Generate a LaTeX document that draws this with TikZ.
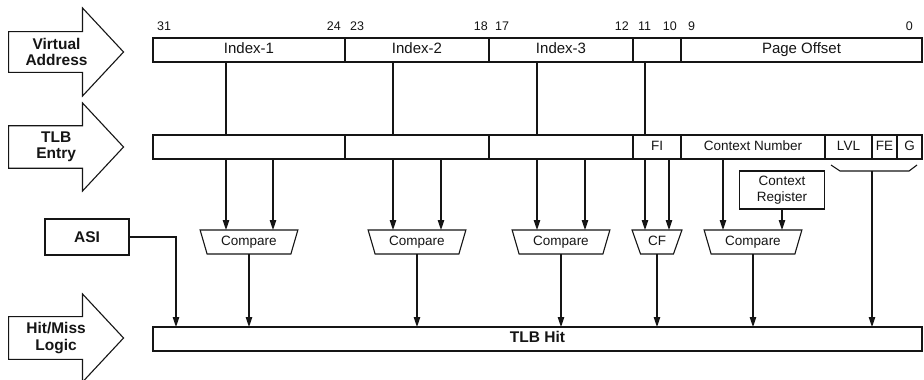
\documentclass[tikz,border=0pt]{standalone}
\usepackage{fontspec}
\setmainfont{Liberation Sans}
\usetikzlibrary{arrows.meta,positioning,shapes.geometric,shapes.arrows}
\definecolor{ink}{HTML}{151515}
\tikzset{
  every node/.style={text=ink},
  field box/.style={
    draw=ink,
    line width=1.1pt,
    minimum height=24pt,
    inner sep=0pt,
    outer sep=0pt,
    text height=1.5ex,
    text depth=.25ex,
    font=\fontsize{15}{17}\selectfont
  },
  entry box/.style={field box,font=\fontsize{13.5}{15}\selectfont},
  bit label/.style={font=\fontsize{12.5}{14}\selectfont,inner sep=0pt},
  compare box/.style={
    trapezium,
    trapezium angle=63.4,
    shape border rotate=180,
    trapezium stretches=true,
    draw=ink,
    line width=1.1pt,
    minimum height=24pt,
    inner sep=0pt,
    outer sep=0pt,
    text height=1.5ex,
    text depth=.25ex,
    font=\fontsize{13.5}{15}\selectfont
  },
  plain box/.style={
    draw=ink,
    line width=1.1pt,
    align=center,
    inner sep=0pt,
    outer sep=0pt
  },
  stage arrow/.style={
    single arrow,
    draw=ink,
    line width=1.1pt,
    minimum height=115pt,
    minimum width=88pt,
    single arrow head extend=19pt,
    single arrow tip angle=94,
    align=center,
    inner sep=2pt,
    font=\bfseries\fontsize{15.5}{16.5}\selectfont
  },
  wire/.style={draw=ink,line width=1.1pt},
  flow arrow/.style={-{Triangle[length=10pt,width=6.5pt]},line width=1.1pt,draw=ink},
}

\begin{document}
\begin{tikzpicture}[x=1pt,y=-1pt]
  \useasboundingbox[fill=white] (0,0) rectangle (924,380);

  % stage arrows on the left
  \node[stage arrow,anchor=tail] (va) at (8,52) {Virtual\\Address};
  \node[stage arrow,anchor=tail] (te) at (8,147) {TLB\\Entry};
  \node[stage arrow,anchor=tail] (hm) at (8,338) {Hit/Miss\\Logic};

  % virtual address
  \node[field box,minimum width=192pt,anchor=north west] (i1) at (153,38) {Index-1};
  \node[field box,minimum width=144pt,right=0pt of i1] (i2) {Index-2};
  \node[field box,minimum width=144pt,right=0pt of i2] (i3) {Index-3};
  \node[field box,minimum width=48pt,right=0pt of i3] (fl) {};
  \node[field box,minimum width=241pt,right=0pt of fl] (po) {Page Offset};

  \node[bit label,anchor=base west] (b31) at ([xshift=4pt,yshift=8pt]i1.north west) {31};
  \node[bit label,anchor=base east] (b24) at ([xshift=-4pt,yshift=8pt]i1.north east) {24};
  \node[bit label,anchor=base west] (b23) at ([xshift=5pt,yshift=8pt]i2.north west) {23};
  \node[bit label,anchor=base east] (b18) at ([xshift=-1pt,yshift=8pt]i2.north east) {18};
  \node[bit label,anchor=base west] (b17) at ([xshift=6pt,yshift=8pt]i3.north west) {17};
  \node[bit label,anchor=base east] (b12) at ([xshift=-4pt,yshift=8pt]i3.north east) {12};
  \node[bit label,anchor=base west] (b11) at ([xshift=5pt,yshift=8pt]fl.north west) {11};
  \node[bit label,anchor=base east] (b10) at ([xshift=-4pt,yshift=8pt]fl.north east) {10};
  \node[bit label,anchor=base west] (b9) at ([xshift=7pt,yshift=8pt]po.north west) {9};
  \node[bit label,anchor=base east] (b0) at ([xshift=-9pt,yshift=8pt]po.north east) {0};

  % TLB entry
  \node[entry box,minimum width=192pt,below=73pt of i1] (t1) {};
  \node[entry box,minimum width=144pt,right=0pt of t1] (t2) {};
  \node[entry box,minimum width=144pt,right=0pt of t2] (t3) {};
  \node[entry box,minimum width=48pt,right=0pt of t3] (fi) {FI};
  \node[entry box,minimum width=144pt,right=0pt of fi] (cn) {Context Number};
  \node[entry box,minimum width=47pt,right=0pt of cn] (lvl) {LVL};
  \node[entry box,minimum width=25pt,right=0pt of lvl] (fe) {FE};
  \node[entry box,minimum width=25pt,right=0pt of fe] (g) {G};

  % comparators
  \node[compare box,minimum width=98pt,below=71pt of t1] (c1) {Compare};
  \node[compare box,minimum width=98pt,below=71pt of t2] (c2) {Compare};
  \node[compare box,minimum width=98pt,below=71pt of t3] (c3) {Compare};
  \node[compare box,minimum width=50pt,below=71pt of fi] (cf) {CF};
  \node[compare box,minimum width=98pt,below=71pt of cn] (c5) {Compare};

  \node[plain box,minimum width=85pt,minimum height=38pt,
        font=\fontsize{13.5}{16}\selectfont,below=12pt of cn,xshift=29pt] (cr) {Context\\Register};
  \node[plain box,minimum width=84pt,minimum height=36pt,
        font=\bfseries\fontsize{15.5}{17}\selectfont] (asi) at (87,237) {ASI};

  \node[field box,minimum width=769pt,anchor=north west,
        font=\bfseries\fontsize{15.5}{17}\selectfont] (hit) at (153,327) {TLB Hit};

  % address bits into the entry
  \draw[wire] ([xshift=-23pt]i1.south) -- ([xshift=-23pt]t1.north);
  \draw[wire] ([xshift=-24pt]i2.south) -- ([xshift=-24pt]t2.north);
  \draw[wire] ([xshift=-24pt]i3.south) -- ([xshift=-24pt]t3.north);
  \draw[wire] ([xshift=-12pt]fl.south) -- ([xshift=-12pt]fi.north);

  % entry fields into comparators
  \draw[flow arrow] ([xshift=-23pt]t1.south) -- ([xshift=-23pt]c1.north);
  \draw[flow arrow] ([xshift=24pt]t1.south) -- ([xshift=24pt]c1.north);
  \draw[flow arrow] ([xshift=-24pt]t2.south) -- ([xshift=-24pt]c2.north);
  \draw[flow arrow] ([xshift=24pt]t2.south) -- ([xshift=24pt]c2.north);
  \draw[flow arrow] ([xshift=-24pt]t3.south) -- ([xshift=-24pt]c3.north);
  \draw[flow arrow] ([xshift=24pt]t3.south) -- ([xshift=24pt]c3.north);
  \draw[flow arrow] ([xshift=-12pt]fi.south) -- ([xshift=-12pt]cf.north);
  \draw[flow arrow] ([xshift=12pt]fi.south) -- ([xshift=12pt]cf.north);
  \draw[flow arrow] ([xshift=-30pt]cn.south) -- ([xshift=-30pt]c5.north);
  \draw[flow arrow] (cr.south) -- (cr.south |- c5.north);

  % LVL, FE, G bracket
  \draw[wire] ([xshift=6pt,yshift=-6pt]lvl.south west) -- ([xshift=15pt,yshift=-12pt]lvl.south west)
    -- ([xshift=-13pt,yshift=-12pt]g.south east) -- ([xshift=-5pt,yshift=-6pt]g.south east);
  \coordinate (brk) at ([yshift=-12pt]fe.south west);

  % into hit logic
  \draw[flow arrow] (asi.east) -| ([xshift=23pt]hit.north west);
  \draw[flow arrow] (c1.south) -- (c1.south |- hit.north);
  \draw[flow arrow] (c2.south) -- (c2.south |- hit.north);
  \draw[flow arrow] (c3.south) -- (c3.south |- hit.north);
  \draw[flow arrow] (cf.south) -- (cf.south |- hit.north);
  \draw[flow arrow] (c5.south) -- (c5.south |- hit.north);
  \draw[flow arrow] (brk) -- (brk |- hit.north);

\end{tikzpicture}
\end{document}
